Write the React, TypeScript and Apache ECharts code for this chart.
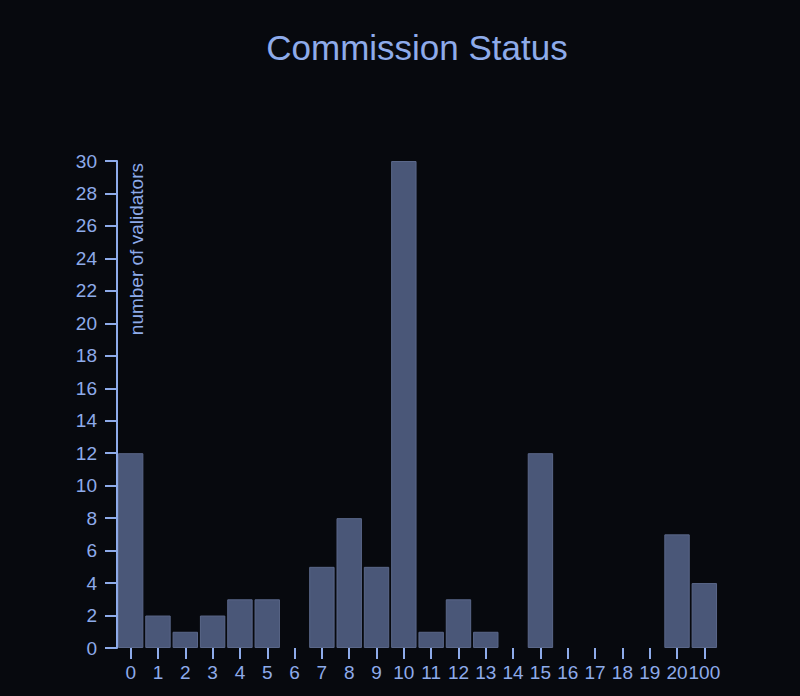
import React, { useEffect, useRef } from "react";
import * as echarts from "echarts";

const categories = ["0","1","2","3","4","5","6","7","8","9","10","11","12","13","14","15","16","17","18","19","20","100"];
const validatorCounts = [12, 2, 1, 2, 3, 3, 0, 5, 8, 5, 30, 1, 3, 1, 0, 12, 0, 0, 0, 0, 7, 4];
const yTicks = { min: 0, max: 30, interval: 2 };

const TEXT = "#8eabea";
const BG = "#07090e";
const FONT = "Liberation Sans, Arial, sans-serif";

export default function App() {
  const ref = useRef<HTMLDivElement>(null);
  useEffect(() => {
    if (!ref.current) return;
    const chart = echarts.init(ref.current, null, { renderer: "svg" });
    chart.setOption({
      animation: false,
      backgroundColor: BG,
      title: {
        text: "Commission Status",
        left: 412,
        top: 25,
        textAlign: "center",
        textStyle: { color: TEXT, fontSize: 35, fontWeight: "normal", fontFamily: FONT },
      },
      grid: { left: 117, right: 82, top: 161, bottom: 48 },
      xAxis: {
        type: "category",
        data: categories,
        axisLine: { show: false },
        axisTick: { show: true, alignWithLabel: true, length: 11, lineStyle: { color: TEXT, width: 2 } },
        axisLabel: { color: TEXT, fontSize: 19, fontFamily: FONT, margin: 15, interval: 0 },
      },
      yAxis: {
        type: "value",
        min: yTicks.min,
        max: yTicks.max,
        interval: yTicks.interval,
        splitLine: { show: false },
        axisLine: { show: true, lineStyle: { color: TEXT, width: 2 } },
        axisTick: { show: true, length: 12, lineStyle: { color: TEXT, width: 2 } },
        axisLabel: { color: TEXT, fontSize: 19, fontFamily: FONT, margin: 20 },
      },
      graphic: [
        {
          type: "text",
          x: 127,
          y: 163,
          rotation: Math.PI / 2,
          style: {
            text: "number of validators",
            fill: TEXT,
            fontSize: 19,
            fontFamily: FONT,
            align: "right",
            verticalAlign: "top",
          },
        },
      ],
      series: [
        {
          type: "bar",
          data: validatorCounts.map((v) => (v === 0 ? null : v)),
          barCategoryGap: "7%",
          itemStyle: { color: "#4a5778", borderColor: "#5a6789", borderWidth: 1 },
        },
      ],
    });
    return () => chart.dispose();
  }, []);
  return (
    <div
      ref={ref}
      style={{ position: "fixed", left: 0, top: 0, width: 800, height: 696, background: BG }}
    />
  );
}
